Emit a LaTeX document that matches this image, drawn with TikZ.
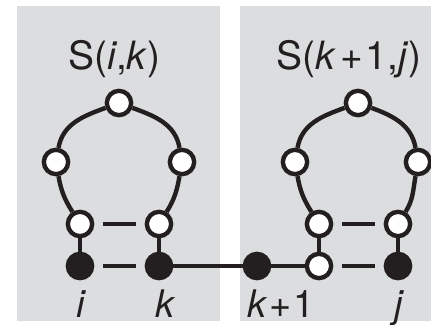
\documentclass[tikz,border=0pt]{standalone}
\usepackage{fontspec}
\setmainfont{TeX Gyre Heros}
\definecolor{ink}{HTML}{231F20}
\definecolor{panel}{HTML}{DCDDDF}
\newcommand{\ttlsize}{\fontsize{39}{42}\selectfont}
\newcommand{\labsize}{\fontsize{38}{42}\selectfont}
\begin{document}
\begin{tikzpicture}[x=1pt,y=1pt,
  open/.style={circle,draw=ink,fill=white,line width=4.4pt,minimum size=24.3pt,inner sep=0pt},
  full/.style={circle,draw=ink,fill=ink,line width=4.4pt,minimum size=24.3pt,inner sep=0pt},
  bond/.style={draw=ink,line width=4.4pt},
  pair/.style={bond,shorten <=8.5pt,shorten >=8.5pt},
  lab/.style={anchor=base,inner sep=0pt,text=ink},
  ]
\useasboundingbox (0,0) rectangle (431,324);
\fill[panel] (17,3) rectangle (220,318);
\fill[panel] (240,3) rectangle (431,318);

% left structure
\node[open] (T1) at (119,221) {};
\node[open] (L1) at (56,162) {};
\node[open] (R1) at (182,162) {};
\node[open] (LL1) at (80,100) {};
\node[open] (LR1) at (159,100) {};
\node[full] (i) at (80,58) {};
\node[full] (k) at (159,58) {};

% right structure
\node[open] (T2) at (358,221) {};
\node[open] (L2) at (295,162) {};
\node[open] (R2) at (418,162) {};
\node[open] (LL2) at (319,100) {};
\node[open] (LR2) at (398,100) {};
\node[open] (B2) at (319,58) {};
\node[full] (j) at (398,58) {};
\node[full] (k1) at (257,58) {};

% loops
\draw[bond] (LL1) to[out=122,in=-80] (L1) to[out=80,in=200] (T1)
  to[out=-20,in=100] (R1) to[out=-100,in=58] (LR1);
\draw[bond] (LL2) to[out=122,in=-80] (L2) to[out=80,in=200] (T2)
  to[out=-20,in=100] (R2) to[out=-100,in=58] (LR2);

% stems and backbone
\draw[bond] (LL1) -- (i);
\draw[bond] (LR1) -- (k);
\draw[bond] (LL2) -- (B2);
\draw[bond] (LR2) -- (j);
\draw[bond] (k) -- (k1);
\draw[bond] (k1) -- (B2);

% base pairs
\draw[pair] (LL1) -- (LR1);
\draw[pair] (i) -- (k);
\draw[pair] (LL2) -- (LR2);
\draw[pair] (B2) -- (j);

% titles
\node[lab] (t1) at (114.5,254) {\ttlsize S(\textit{i},\textit{k})};
\node[lab] (t2) at (349,254) {\ttlsize S(\textit{k}\hspace{4pt}+\hspace{3pt}1,\textit{j})};

% labels
\node[lab] (li) at (81,7) {\labsize\textit{i}};
\node[lab] (lk) at (165.5,7) {\labsize\textit{k}};
\node[lab] (lk1) at (281,7) {\labsize\textit{k}\hspace{2pt}+\hspace{1pt}1};
\node[lab] (lj) at (399,7) {\labsize\textit{j}};
\end{tikzpicture}
\end{document}
